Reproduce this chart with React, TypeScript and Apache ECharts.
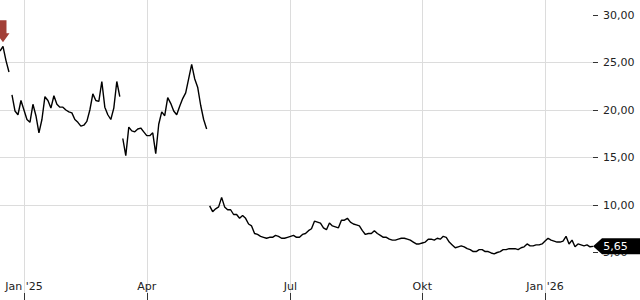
import React, { useEffect, useRef } from "react";
import * as echarts from "echarts";

// ---- data ----
const categoryCount = 199;

const tickLabels = [
  { index: 8, text: "Jan '25" },
  { index: 49, text: "Apr" },
  { index: 97, text: "Jul" },
  { index: 141, text: "Okt" },
  { index: 182, text: "Jan '26" },
];

const yTickValues = [5, 10, 15, 20, 25, 30];

const seg1Start = 0;
const seg1 = [26.2, 26.7, 25.2, 24.0];

const seg2Start = 4;
const seg2 = [
  21.6, 19.9, 19.5, 21.0, 20.0, 19.0, 18.7, 20.6, 19.4, 17.6, 19.0, 21.4, 21.0,
  20.2, 21.5, 20.6, 20.3, 20.3, 20.0, 19.8, 19.7, 19.0, 18.7, 18.3, 18.4, 18.8,
  20.0, 21.7, 21.0, 20.9, 23.0, 20.3, 19.5, 19.0, 20.2, 23.0, 21.4,
];

const seg3Start = 41;
const seg3 = [
  17.0, 15.2, 18.2, 17.8, 17.7, 18.0, 18.1, 17.7, 17.3, 17.3, 17.6, 15.4, 18.5,
  19.8, 19.4, 21.3, 20.7, 19.9, 19.5, 20.4, 21.2, 21.8, 23.3, 24.8, 23.3, 22.4,
  20.5, 19.0, 18.0,
];

const seg4Start = 70;
const seg4 = [
  9.9, 9.3, 9.6, 9.8, 10.8, 9.8, 9.5, 9.5, 9.0, 9.0, 8.6, 8.9, 8.6, 8.0, 7.8,
  7.0, 6.9, 6.7, 6.6, 6.5, 6.6, 6.6, 6.8, 6.7, 6.5, 6.5, 6.6, 6.7, 6.8, 6.6,
  6.6, 6.9, 7.0, 7.3, 7.5, 8.3, 8.2, 8.1, 7.6, 7.4, 8.1, 7.8, 7.7, 7.6, 8.4,
  8.4, 8.6, 8.2, 8.0, 7.9, 7.8, 7.3, 6.9, 7.0, 7.0, 7.3, 7.0, 6.8, 6.6, 6.6,
  6.4, 6.3, 6.3, 6.4, 6.5, 6.5, 6.4, 6.3, 6.1, 5.9, 5.9, 6.0, 6.1, 6.4, 6.4,
  6.3, 6.5, 6.4, 6.7, 6.6, 6.1, 5.8, 5.5, 5.6, 5.7, 5.6, 5.4, 5.3, 5.1, 5.1,
  5.3, 5.3, 5.1, 5.1, 4.95, 4.85, 5.0, 5.1, 5.3, 5.3, 5.4, 5.4, 5.4, 5.3, 5.5,
  5.6, 5.9, 5.7, 5.7, 5.8, 5.8, 5.9, 6.2, 6.5, 6.3, 6.2, 6.1, 6.1, 6.2, 6.7,
  5.9, 6.3, 5.6, 5.9, 5.8, 5.7, 5.8, 5.6, 5.65,
];

const lastPrice = 5.65;
const signalIndex = 1;
const signalValue = 26.7;

const segments = [
  { start: seg1Start, values: seg1 },
  { start: seg2Start, values: seg2 },
  { start: seg3Start, values: seg3 },
  { start: seg4Start, values: seg4 },
];

const FONT = "DejaVu Sans";
const fmt = (v: number) => v.toFixed(2).replace(".", ",");

export default function App() {
  const ref = useRef<HTMLDivElement>(null);

  useEffect(() => {
    if (!ref.current) return;
    const chart = echarts.init(ref.current, null, { renderer: "svg" });
    const categories = Array.from({ length: categoryCount }, (_, i) => String(i));
    const labelMap = new Map<number, string>(tickLabels.map((t) => [t.index, t.text]));
    const isTick = (i: number) => labelMap.has(i);
    const lastIndex = categoryCount - 1;

    const series: any[] = segments.map((seg, k) => {
      const s: any = {
        type: "line",
        data: seg.values.map((v, j) => [seg.start + j, v]),
        symbol: "none",
        showSymbol: false,
        silent: true,
        lineStyle: { color: "#000", width: 1.4 },
        z: 3,
      };
      if (k === 0) {
        s.markPoint = {
          silent: true,
          symbol: "path://M3,0 L10,0 L10,13 L13,13 L6.5,22 L0,13 L3,13 Z",
          symbolSize: [13, 22],
          symbolOffset: [0, -15],
          itemStyle: { color: "#a23f37" },
          label: { show: false },
          data: [{ coord: [signalIndex, signalValue] }],
        };
      }
      if (k === segments.length - 1) {
        s.markPoint = {
          silent: true,
          symbol: "path://M0,8 L9,0 L47,0 L47,16 L9,16 Z",
          symbolSize: [47, 16],
          symbolOffset: [23.5, 0],
          itemStyle: { color: "#000" },
          z: 10,
          label: {
            show: true,
            position: "inside",
            color: "#fff",
            fontFamily: FONT,
            fontSize: 11,
            offset: [-1, 0],
            formatter: () => fmt(lastPrice),
          },
          data: [{ coord: [lastIndex, lastPrice] }],
        };
      }
      return s;
    });

    chart.setOption({
      animation: false,
      grid: { left: 0, right: 47, top: 0, bottom: 0, containLabel: false },
      xAxis: {
        type: "category",
        data: categories,
        boundaryGap: false,
        axisLine: { show: false },
        axisTick: {
          show: true,
          inside: true,
          length: 7,
          interval: (i: number) => isTick(i),
          lineStyle: { color: "#333" },
        },
        axisLabel: {
          inside: true,
          margin: 8,
          interval: (i: number) => isTick(i),
          formatter: (_v: string, i: number) => labelMap.get(i) ?? "",
          color: "#222",
          fontFamily: FONT,
          fontSize: 11,
        },
        splitLine: {
          show: true,
          interval: (i: number) => isTick(i),
          lineStyle: { color: "#dcdcdc", width: 1 },
        },
      },
      yAxis: {
        type: "value",
        position: "right",
        min: 0,
        max: 30 + 15 / 9.5,
        interval: 5,
        axisLine: { show: false },
        axisTick: {
          show: true,
          length: 5,
          lineStyle: { color: "#333" },
          customValues: yTickValues,
        },
        axisLabel: {
          customValues: yTickValues,
          margin: 10,
          color: "#222",
          fontFamily: FONT,
          fontSize: 11,
          formatter: (v: number) => (yTickValues.includes(v) ? fmt(v) : ""),
        },
        splitLine: {
          show: true,
          showMinLine: false,
          showMaxLine: false,
          lineStyle: { color: "#dcdcdc", width: 1 },
        },
      },
      series,
    });

    return () => chart.dispose();
  }, []);

  return (
    <div
      ref={ref}
      style={{ position: "fixed", left: 0, top: 0, width: 640, height: 300, background: "#fff" }}
    />
  );
}
